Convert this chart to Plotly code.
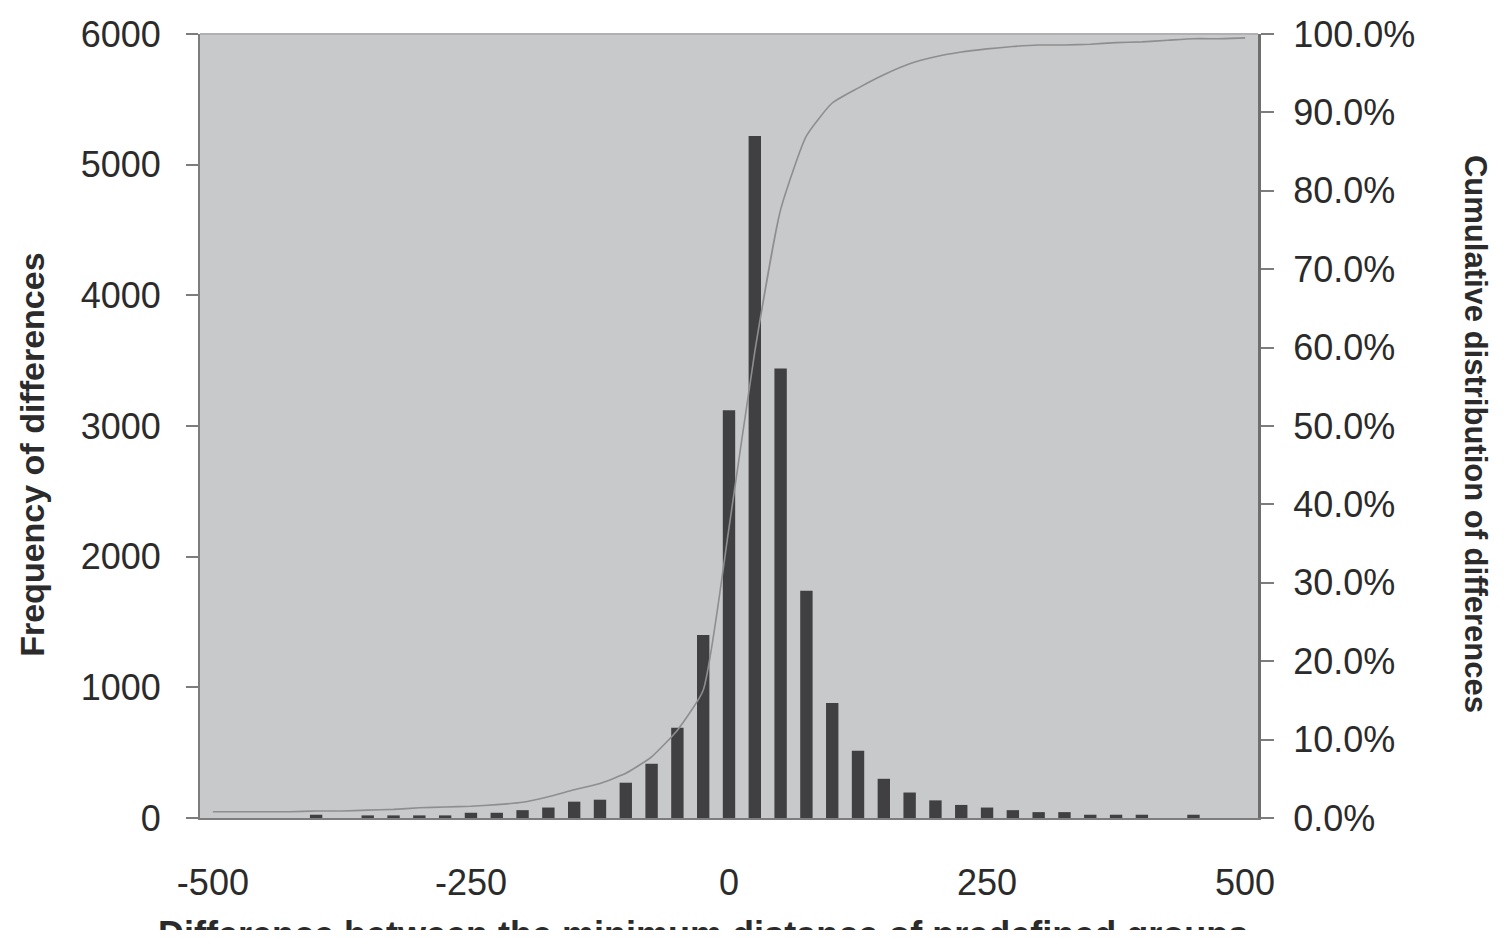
import plotly.graph_objects as go

# bin centres of the differences (step 25)
bins = [-500, -475, -450, -425, -400, -375, -350, -325, -300, -275, -250,
        -225, -200, -175, -150, -125, -100, -75, -50, -25, 0,
        25, 50, 75, 100, 125, 150, 175, 200, 225, 250,
        275, 300, 325, 350, 375, 400, 425, 450, 475, 500]

frequency = [0, 0, 0, 0, 25, 0, 20, 20, 20, 20, 40,
             40, 60, 80, 125, 140, 270, 415, 690, 1400, 3120,
             5220, 3440, 1740, 880, 515, 300, 195, 135, 100, 80,
             60, 45, 45, 25, 25, 25, 0, 25, 0, 0]

# cumulative share (fraction of 1)
cumulative = [0.008, 0.008, 0.008, 0.008, 0.009, 0.009, 0.010, 0.011, 0.013, 0.014, 0.015,
              0.017, 0.020, 0.027, 0.036, 0.044, 0.057, 0.078, 0.112, 0.163, 0.370,
              0.595, 0.776, 0.870, 0.912, 0.931, 0.948, 0.962, 0.971, 0.977, 0.981,
              0.984, 0.986, 0.986, 0.987, 0.989, 0.990, 0.992, 0.994, 0.994, 0.995]

x_labels = [-500, -250, 0, 250, 500]
x_label_text = ["-500", "-250", "0", "250", "500"]
x_tick_marks = [-512.5, -462.5, -412.5, -362.5, -312.5, -262.5, -212.5, -162.5,
                -112.5, -62.5, -12.5, 37.5, 87.5, 137.5, 187.5, 237.5, 287.5,
                337.5, 387.5, 437.5, 487.5]

FONT = "Liberation Sans, Arial, sans-serif"
TEXT = "#2b2b2b"
AXIS = "#7d7d7d"
X_RANGE = [-512.5, 512.5]

fig = go.Figure()

fig.add_trace(go.Bar(
    x=bins,
    y=frequency,
    width=12,
    marker=dict(color="#404042", line=dict(width=0)),
    showlegend=False,
))

fig.add_trace(go.Scatter(
    x=bins,
    y=cumulative,
    yaxis="y2",
    mode="lines",
    line=dict(color="#8e8e90", width=1.6, shape="spline", smoothing=0.5),
    showlegend=False,
))

tick_font = dict(family=FONT, size=36, color=TEXT)

# the page body adds an 8px margin, so the figure is sized to fit inside it
fig.update_layout(
    width=1487,
    height=922,
    margin=dict(l=192, r=237, t=26, b=112, autoexpand=False),
    paper_bgcolor="white",
    plot_bgcolor="#c8c9cb",
    bargap=0.5,
    xaxis=dict(
        range=X_RANGE,
        tickvals=x_labels,
        ticktext=x_label_text,
        ticks="",
        tickfont=tick_font,
        ticklabelstandoff=32,
        showgrid=False,
        zeroline=False,
        showline=True,
        linecolor=AXIS,
        linewidth=2,
    ),
    # tick marks crossing the x axis at every second bin edge
    xaxis2=dict(
        range=X_RANGE, overlaying="x", anchor="y", side="bottom",
        tickvals=x_tick_marks, ticks="outside", ticklen=14, tickwidth=2,
        tickcolor=AXIS, showticklabels=False, showgrid=False, zeroline=False,
    ),
    xaxis3=dict(
        range=X_RANGE, overlaying="x", anchor="y", side="bottom",
        tickvals=x_tick_marks, ticks="inside", ticklen=16, tickwidth=2,
        tickcolor=AXIS, showticklabels=False, showgrid=False, zeroline=False,
    ),
    yaxis=dict(
        range=[0, 6000],
        dtick=1000,
        ticks="outside",
        ticklen=12,
        tickwidth=1.5,
        tickcolor=AXIS,
        tickfont=tick_font,
        ticklabelstandoff=18,
        showgrid=False,
        zeroline=False,
        showline=True,
        linecolor=AXIS,
        linewidth=2,
    ),
    yaxis2=dict(
        range=[0, 1],
        dtick=0.1,
        tickformat=".1%",
        overlaying="y",
        side="right",
        anchor="x",
        ticks="outside",
        ticklen=13,
        tickwidth=1.5,
        tickcolor=AXIS,
        tickfont=tick_font,
        ticklabelstandoff=12,
        showgrid=False,
        zeroline=False,
        showline=True,
        linecolor="#6e6e6e",
        linewidth=3,
    ),
    yaxis3=dict(
        range=[0, 1], dtick=0.1, overlaying="y", side="right", anchor="x",
        ticks="inside", ticklen=13, tickwidth=1.5, tickcolor=AXIS,
        showticklabels=False, showgrid=False, zeroline=False,
    ),
    yaxis4=dict(
        range=[0, 6000], dtick=1000, overlaying="y", side="left", anchor="x",
        ticks="inside", ticklen=13, tickwidth=1.5, tickcolor=AXIS,
        showticklabels=False, showgrid=False, zeroline=False,
    ),
)

# top border of the plot area
fig.add_shape(type="line", xref="paper", yref="paper", x0=0, x1=1, y0=1, y1=1,
              line=dict(color="#b0b0b2", width=2))

fig.add_annotation(
    text="<b>Frequency of differences</b>", xref="paper", yref="paper",
    x=-0.159, y=0.463, xanchor="center", yanchor="middle", textangle=-90,
    showarrow=False, font=dict(family=FONT, size=34, color=TEXT),
)
fig.add_annotation(
    text="<b>Cumulative distribution of differences</b>", xref="paper", yref="paper",
    x=1.205, y=0.49, xanchor="center", yanchor="middle", textangle=90,
    showarrow=False, font=dict(family=FONT, size=31, color=TEXT),
)
fig.add_annotation(
    text="<b>Difference between the minimum distance of predefined groups</b>",
    xref="paper", yref="paper", x=0.475, y=-0.12, xanchor="center", yanchor="top",
    showarrow=False, font=dict(family=FONT, size=36, color=TEXT),
)

fig.write_html("out.html")
